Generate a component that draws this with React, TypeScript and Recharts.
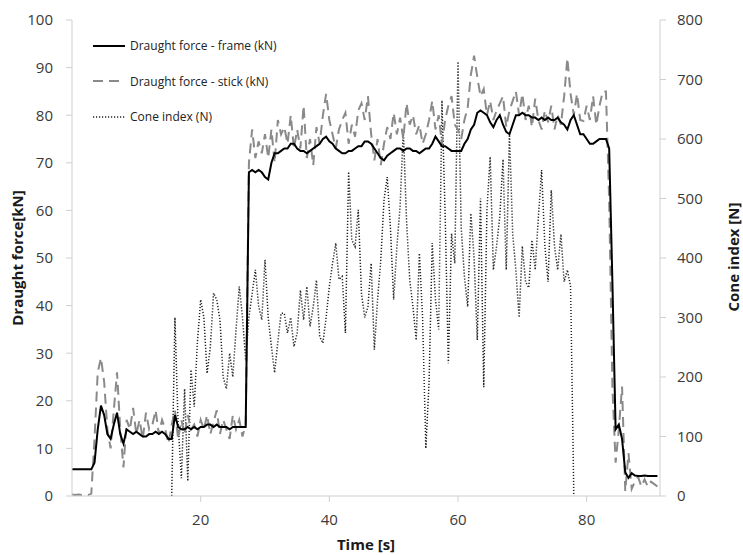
import React from 'react';
import {
  LineChart,
  Line,
  XAxis,
  YAxis,
  Legend,
} from 'recharts';

// sampling of the traces (s)
const STEP = 0.5;
const CONE_START = 15.5;

const xTicks = [20, 40, 60, 80];
const forceTicks = [0, 10, 20, 30, 40, 50, 60, 70, 80, 90, 100];
const coneTicks = [0, 100, 200, 300, 400, 500, 600, 700, 800];

// Draught force - frame (kN), t = 0 .. 91 s
const frame = [
  5.6, 5.6, 5.6, 5.6, 5.6, 5.6, 5.6, 7, 14, 19,
  17, 13, 12, 15, 17.5, 13, 11, 14, 13.5, 13,
  13.5, 13, 12.5, 12.5, 13, 13, 13.5, 13, 13.5, 13,
  12, 12, 17, 14.5, 14, 14, 14.5, 14, 14.5, 14,
  14.5, 14.5, 15, 15, 14.5, 15, 14.5, 14.5, 14.5, 14,
  14.5, 14.5, 14.5, 14.5, 14.5, 68, 68.5, 68, 68.5, 68,
  67, 66.5, 70, 72, 72, 72.5, 73, 73, 74, 74,
  73, 72.5, 72.5, 72, 72.5, 73, 73.5, 74, 75, 75.5,
  74.5, 74, 73, 72.5, 72, 72, 72.5, 72.5, 73, 73.5,
  73.5, 74.5, 74.5, 74, 73, 72, 71, 70.5, 71.5, 72,
  72.5, 73, 73, 72.5, 73, 73, 72.5, 72.5, 72, 72.5,
  73, 73, 74, 75.5, 74.5, 73.5, 73.5, 73, 72.5, 72.5,
  72.5, 72.5, 74, 75, 77, 78, 80.5, 81, 80.5, 80,
  78.5, 77.5, 79, 80, 78, 76.5, 76, 78, 80, 80,
  80.5, 80, 80, 79.5, 79.5, 79, 79.5, 79, 79.5, 79,
  79, 79.5, 78.5, 78, 77, 79, 80, 78, 76, 76,
  75, 74, 74, 74.5, 75, 75, 75, 73, 45, 14,
  15, 12, 5, 3.8, 4.8, 4.3, 4.2, 4.2, 4.3, 4.2,
  4.2, 4.2, 4.2,
];

// Draught force - stick (kN), t = 0 .. 91 s
const stick = [
  0.3, 0.2, 0.3, 0.2, 0.3, 0.2, 0.5, 12, 26, 29,
  24, 14, 10, 18, 26, 14, 6, 16, 14, 18.5,
  13, 16, 12, 17.5, 14, 15, 18, 13, 16, 14,
  11, 15, 18, 12, 16, 13, 17, 14, 15, 12.5,
  16, 14, 17, 13, 15.5, 18, 13, 16, 14, 12,
  17, 14, 16, 12.5, 15, 70, 77, 71, 74.5, 72,
  76, 71, 77, 70, 79, 76, 77.5, 74, 80, 73,
  77, 73, 82, 71, 75, 69.5, 77.5, 74, 80, 84.5,
  79, 76, 73, 77, 79, 80.5, 74, 78, 75.5, 81,
  82.5, 79, 84, 76, 70.5, 75, 69.5, 74, 77.5, 75,
  80.5, 76, 79.5, 75, 82.5, 78, 80, 76, 78, 74,
  76, 79, 83, 77, 80, 74, 79, 82, 84, 78,
  77, 75, 79, 81.5, 88.5, 92.5, 88, 84, 85.5, 80,
  83, 79, 81, 82.5, 84, 77.5, 81, 83, 85, 80,
  84.5, 79, 82, 77.5, 83.5, 79, 77, 81, 78.5, 82,
  77, 80, 78, 84, 92, 84.5, 80, 84.5, 79, 78.8,
  82, 79, 84, 78, 82, 85, 85, 62, 23, 7,
  14, 23, 1, 9, 1.5, 3, 4, 2, 3.5, 2,
  3, 2.5, 2,
];

// Cone index (N), t = 15.5 .. 78 s
const cone = [
  0, 300, 120, 30, 180, 25, 212, 150, 260,
  330, 300, 206, 250, 341, 330, 296, 200, 180, 240,
  200, 280, 352, 301, 228, 300, 340, 380, 320, 296,
  397, 300, 251, 207, 260, 307, 307, 274, 300, 251,
  274, 346, 296, 352, 285, 318, 363, 268, 257, 300,
  352, 391, 425, 364, 369, 274, 545, 430, 419, 481,
  340, 300, 318, 391, 246, 330, 397, 497, 536, 450,
  330, 420, 486, 615, 464, 363, 318, 262, 408, 300,
  80, 190, 425, 330, 280, 665, 475, 223, 441, 391,
  730, 450, 369, 318, 475, 400, 262, 500, 183, 480,
  570, 380, 420, 470, 566, 380, 610, 440, 380, 300,
  420, 360, 350, 430, 380, 470, 548, 420, 360, 514,
  420, 380, 440, 360, 380, 352, 0,
];

const coneOffset = Math.round(CONE_START / STEP);

const data = frame.map((f, i) => {
  const j = i - coneOffset;
  return {
    t: i * STEP,
    frame: f,
    stick: stick[i],
    cone: j >= 0 && j < cone.length ? cone[j] : null,
  };
});

const FONT = "'Open Sans', sans-serif";
const AXIS = '#cfcfcf';
const TICK = { fontSize: 15, fill: '#3a3a3a', fontFamily: FONT };

const legendItems = [
  { label: 'Draught force - frame (kN)', color: '#000', dash: undefined, width: 2 },
  { label: 'Draught force - stick (kN)', color: '#8a8a8a', dash: '10 6', width: 2 },
  { label: 'Cone index (N)', color: '#222', dash: '1.2 1.8', width: 1.5 },
];

const renderLegend = () => (
  <div style={{ fontFamily: FONT, fontSize: 12, color: '#222' }}>
    {legendItems.map((it) => (
      <div
        key={it.label}
        style={{ display: 'flex', alignItems: 'center', height: 35.5 }}
      >
        <svg width={33} height={8} style={{ marginRight: 4 }}>
          <line
            x1={0}
            y1={4}
            x2={32}
            y2={4}
            stroke={it.color}
            strokeWidth={it.width}
            strokeDasharray={it.dash}
          />
        </svg>
        <span>{it.label}</span>
      </div>
    ))}
  </div>
);

// axis titles: own prop names so the axis does not override them
const AxisTitle = ({ px, py, rot, title }: { px: number; py: number; rot: number; title: string }) => (
  <text
    x={px}
    y={py}
    transform={`rotate(${rot}, ${px}, ${py})`}
    textAnchor="middle"
    dominantBaseline="central"
    style={{ fontFamily: FONT, fontSize: 15, fontWeight: 700, fill: '#1a1a1a' }}
  >
    {title}
  </text>
);

export default function App() {
  return (
    <div style={{ position: 'absolute', left: 0, top: 0, background: '#fff' }}>
      <LineChart
        width={743}
        height={555}
        data={data}
        margin={{ top: 20, right: 0, bottom: 0, left: 0 }}
      >
        <XAxis
          dataKey="t"
          type="number"
          domain={[0, 91.4]}
          ticks={xTicks}
          allowDataOverflow
          height={59}
          stroke={AXIS}
          tickSize={6}
          tickMargin={12}
          tick={TICK}
          label={<AxisTitle px={366} py={544} rot={0} title="Time [s]" />}
        />
        <YAxis
          yAxisId="left"
          domain={[0, 100]}
          ticks={forceTicks}
          width={72}
          stroke={AXIS}
          tickSize={6}
          tickMargin={13}
          tick={TICK}
          label={<AxisTitle px={17} py={258} rot={-90} title="Draught force[kN]" />}
        />
        <YAxis
          yAxisId="right"
          orientation="right"
          domain={[0, 800]}
          ticks={coneTicks}
          width={83}
          stroke={AXIS}
          tickSize={6}
          tickMargin={11}
          tick={{ ...TICK, textAnchor: 'start' }}
          label={<AxisTitle px={733} py={257} rot={-90} title="Cone index [N]" />}
        />
        <Legend
          layout="vertical"
          align="center"
          verticalAlign="middle"
          wrapperStyle={{ left: 93, top: 28, width: 'auto', height: 'auto' }}
          content={renderLegend}
        />
        <Line
          yAxisId="right"
          dataKey="cone"
          stroke="#222"
          strokeWidth={1.5}
          strokeDasharray="1.2 1.8"
          dot={false}
          connectNulls={false}
          isAnimationActive={false}
        />
        <Line
          yAxisId="left"
          dataKey="stick"
          stroke="#8a8a8a"
          strokeWidth={2}
          strokeDasharray="10 6"
          dot={false}
          isAnimationActive={false}
        />
        <Line
          yAxisId="left"
          dataKey="frame"
          stroke="#000"
          strokeWidth={2}
          dot={false}
          isAnimationActive={false}
        />
      </LineChart>
    </div>
  );
}
